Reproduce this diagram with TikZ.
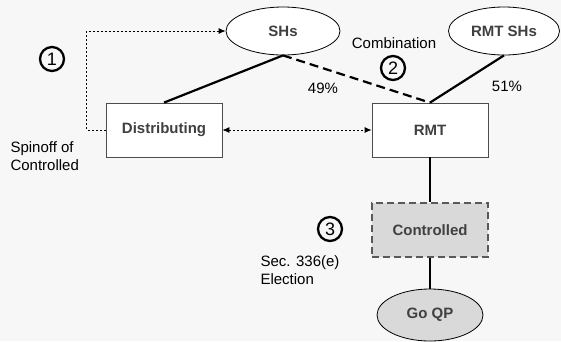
\documentclass[tikz,border=0pt]{standalone}
\usepackage{fontspec}
\setmainfont{Liberation Sans}
\usetikzlibrary{arrows.meta,positioning,shapes.geometric}
\definecolor{bgcol}{HTML}{F7F7F7}
\definecolor{labcol}{HTML}{404040}
\definecolor{fillcol}{HTML}{D9D9D9}
\tikzset{font=\fontsize{15}{18}\selectfont}
\tikzstyle{entity}=[rectangle,draw=black!70,fill=white,line width=0.8pt,minimum width=116pt,minimum height=54pt,inner sep=0pt,text=labcol,font=\fontsize{15}{18}\selectfont\bfseries]
\tikzstyle{owners}=[ellipse,draw=black,fill=white,line width=0.8pt,minimum width=114pt,minimum height=48pt,inner sep=0pt,text=labcol,font=\fontsize{15}{18}\selectfont\bfseries]
\tikzstyle{step num}=[circle,draw=black,line width=2.3pt,minimum size=24pt,inner sep=0pt,font=\fontsize{18}{18}\selectfont]
\tikzstyle{own}=[line width=2.2pt]
\tikzstyle{deal}=[dash pattern=on 2pt off 2pt,line width=0.8pt,>={Latex[length=7pt,width=6pt]}]

\begin{document}
\begin{tikzpicture}[x=1pt,y=-1pt]
\useasboundingbox[fill=bgcol] (0,0) rectangle (561,341);
% shareholders
\node[owners] (S) at (283,31) {SHs};
\node[owners,minimum width=111pt] (R) at (504,31) {RMT SHs};
% corporations
\node[entity] (D) at (164,130) {Distributing};
\node[entity] (T) at (430,130) {RMT};
\node[entity,fill=fillcol,draw=black!65,dash pattern=on 7pt off 4pt,line width=2pt] (C) at (430,230) {Controlled};
\node[owners,fill=fillcol,minimum width=106pt,minimum height=52pt] (Q) at (430,315) {Go QP};
% steps and notes
\node[step num] (n1) at (52,59) {1};
\node[step num] (n2) at (393,68) {2};
\node[step num] (n3) at (330,229) {3};
\node[align=left,anchor=west] (spin) at (7,156) {Spinoff of\\Controlled};
\node (comb) at (394,43) {Combination};
\node (p49) at (323,88) {49\%};
\node (p51) at (507,86) {51\%};
\node[align=left,anchor=west] (elec) at (257,270) {Sec. 336(e)\\Election};
% ownership lines
\draw[own] (S.south) -- (D.north);
\draw[own,dash pattern=on 9pt off 5pt] (S.south) -- (T.north);
\draw[own] (R.south) -- (T.north);
\draw[own] (T.south) -- (C.north);
\draw[own] (C.south) -- (Q.north);
% distribution and transfer
\draw[deal,->] (D.west) -- ++(-19,0) |- (S.west);
\draw[deal,<->] (D.east) -- (T.west);
\end{tikzpicture}
\end{document}
